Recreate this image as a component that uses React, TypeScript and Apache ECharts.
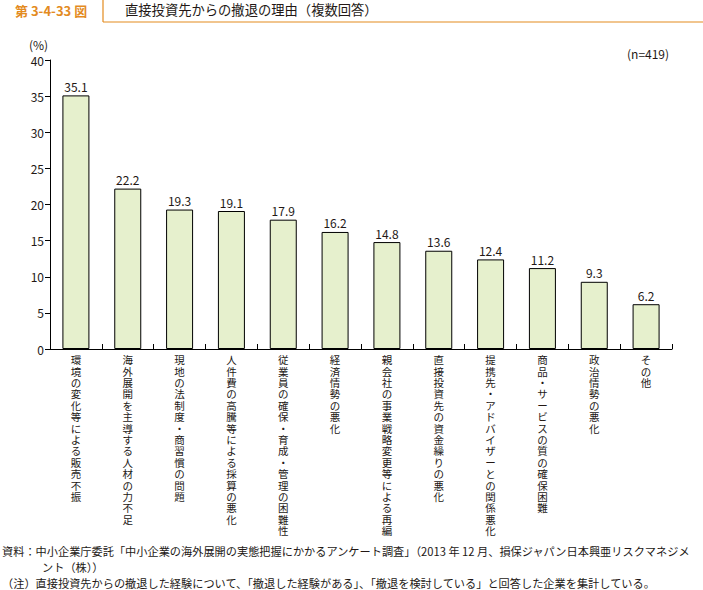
import React, { useEffect, useRef } from "react";
import * as echarts from "echarts";

const categories = [
  "環境の変化等による販売不振",
  "海外展開を主導する人材の力不足",
  "現地の法制度・商習慣の問題",
  "人件費の高騰等による採算の悪化",
  "従業員の確保・育成・管理の困難性",
  "経済情勢の悪化",
  "親会社の事業戦略変更等による再編",
  "直接投資先の資金繰りの悪化",
  "提携先・アドバイザーとの関係悪化",
  "商品・サービスの質の確保困難",
  "政治情勢の悪化",
  "その他",
];
const values = [35.1, 22.2, 19.3, 19.1, 17.9, 16.2, 14.8, 13.6, 12.4, 11.2, 9.3, 6.2];

const FONT = "'Noto Sans CJK JP', 'Noto Sans', sans-serif";
const TEXT = "#231815";
const ORANGE = "#e38b1f";

export default function App() {
  const ref = useRef<HTMLDivElement>(null);
  useEffect(() => {
    if (!ref.current) return;
    const chart = echarts.init(ref.current, null, { renderer: "svg" });
    chart.setOption({
      animation: false,
      textStyle: { fontFamily: FONT },
      grid: { left: 50, top: 60, right: 31, bottom: 241, containLabel: false },
      xAxis: {
        type: "category",
        data: categories,
        axisLine: { lineStyle: { color: "#000", width: 1 } },
        axisTick: { show: true, inside: true, length: 5, lineStyle: { color: "#000" } },
        axisLabel: {
          interval: 0,
          margin: 5,
          color: TEXT,
          fontSize: 10.5,
          lineHeight: 11.4,
          verticalAlign: "top",
          formatter: (v: string) => v.split("").join("\n"),
        },
      },
      yAxis: {
        type: "value",
        min: 0,
        max: 40,
        interval: 5,
        axisLine: { show: true, lineStyle: { color: "#000", width: 1 } },
        axisTick: { show: true, length: 5, lineStyle: { color: "#000" } },
        splitLine: { show: false },
        axisLabel: { color: TEXT, fontSize: 12, margin: 6 },
      },
      series: [
        {
          type: "bar",
          data: values,
          barWidth: 27,
          itemStyle: { color: "#e6f0cd", borderColor: "#000", borderWidth: 1 },
          label: {
            show: true,
            position: "top",
            distance: 3,
            color: TEXT,
            fontSize: 12,
            formatter: (p: any) => p.value.toFixed(1),
          },
        },
      ],
      graphic: [
        { type: "line", shape: { x1: 103, y1: 0, x2: 103, y2: 22 }, style: { stroke: ORANGE, lineWidth: 1.2 } },
        { type: "line", shape: { x1: 103, y1: 22, x2: 703, y2: 22 }, style: { stroke: ORANGE, lineWidth: 1.2 } },
        {
          type: "text",
          x: 15,
          y: 4,
          style: { text: "第 3-4-33 図", fill: ORANGE, font: `bold 13px ${FONT}` },
        },
        {
          type: "text",
          x: 125,
          y: 3,
          style: { text: "直接投資先からの撤退の理由（複数回答）", fill: TEXT, font: `13.3px ${FONT}` },
        },
        {
          type: "text",
          x: 29,
          y: 38,
          style: { text: "(%)", fill: TEXT, font: `12px ${FONT}` },
        },
        {
          type: "text",
          x: 627,
          y: 47,
          style: { text: "(n=419)", fill: TEXT, font: `12px ${FONT}` },
        },
        {
          type: "text",
          x: 2,
          y: 545,
          style: {
            text: "資料：中小企業庁委託「中小企業の海外展開の実態把握にかかるアンケート調査」（2013 年 12 月、損保ジャパン日本興亜リスクマネジメ",
            fill: TEXT,
            font: `11.2px ${FONT}`,
          },
        },
        {
          type: "text",
          x: 42,
          y: 561,
          style: { text: "ント（株））", fill: TEXT, font: `11.2px ${FONT}` },
        },
        {
          type: "text",
          x: 2,
          y: 577,
          style: {
            text: "（注）直接投資先からの撤退した経験について、「撤退した経験がある」、「撤退を検討している」と回答した企業を集計している。",
            fill: TEXT,
            font: `11.2px ${FONT}`,
          },
        },
      ],
    });
    return () => chart.dispose();
  }, []);
  return (
    <div
      ref={ref}
      style={{ position: "fixed", left: 0, top: 0, width: 703, height: 590, background: "#fff" }}
    />
  );
}
